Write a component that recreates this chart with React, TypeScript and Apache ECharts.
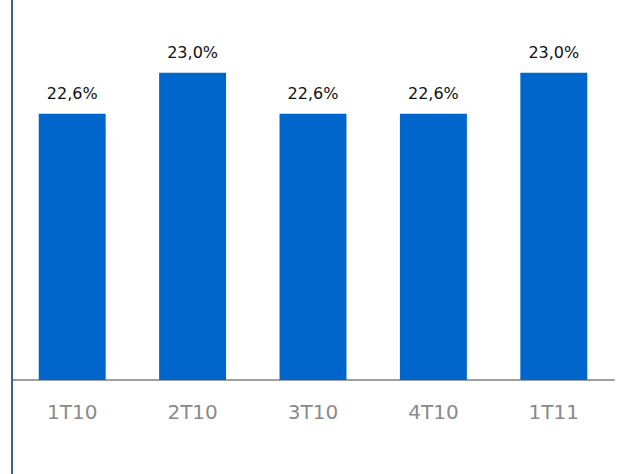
import React, { useEffect, useRef } from "react";
import * as echarts from "echarts";

const categories = ["1T10", "2T10", "3T10", "4T10", "1T11"];
const values = [22.6, 23.0, 22.6, 22.6, 23.0];

export default function App() {
  const ref = useRef<HTMLDivElement>(null);
  useEffect(() => {
    if (!ref.current) return;
    const chart = echarts.init(ref.current, undefined, { renderer: "svg" });
    chart.setOption({
      animation: false,
      grid: { left: 12, right: 20, top: 0, bottom: 94, containLabel: false },
      xAxis: {
        type: "category",
        data: categories,
        axisLine: { show: true, lineStyle: { color: "#a0a0a0", width: 2 } },
        axisTick: { show: false },
        axisLabel: {
          color: "#8a8a8a",
          fontSize: 20,
          fontFamily: "DejaVu Sans",
          margin: 22,
        },
      },
      yAxis: {
        type: "value",
        min: 20,
        max: 23.71,
        show: false,
        splitLine: { show: false },
      },
      graphic: [
        {
          type: "line",
          shape: { x1: 12, y1: 0, x2: 12, y2: 474 },
          style: { stroke: "#3a5f9a", lineWidth: 2 },
          z: 100,
        },
      ],
      series: [
        {
          type: "bar",
          data: values,
          barWidth: "55.6%",
          itemStyle: { color: "#0066cc" },
          label: {
            show: true,
            position: "top",
            distance: 12,
            color: "#111111",
            fontSize: 16,
            fontFamily: "DejaVu Sans",
            formatter: (p: any) => p.value.toFixed(1).replace(".", ",") + "%",
          },
        },
      ],
    });
    return () => chart.dispose();
  }, []);
  return (
    <div
      ref={ref}
      style={{ position: "fixed", left: 0, top: 0, width: 634, height: 474, background: "#fff" }}
    />
  );
}
